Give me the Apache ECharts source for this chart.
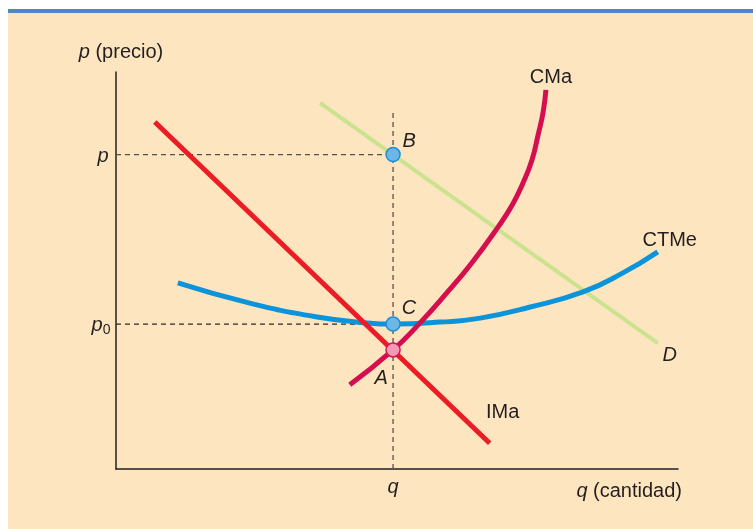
<!DOCTYPE html>
<html><head><meta charset="utf-8">
<script src="https://cdn.jsdelivr.net/npm/echarts@6/dist/echarts.min.js"></script>
<style>html,body{margin:0;padding:0;background:#fff}#c{width:753px;height:529px}</style>
</head><body><div id="c"></div>
<script>
// ---- data (axis units 0..10) ----
const qVal = 4.93;          // quantity q
const pVal = 7.92;          // price p (point B)
const p0Val = 3.65;         // price p0 (point C)
const aVal = 3.00;          // point A (IMa = CMa)
const vDashTop = 9.04;

const imaX = [0.69, 6.65];
const imaY = [8.74, 0.65];
const dX = [3.63, 9.64];
const dY = [9.22, 3.17];
const cmaX = [4.16, 4.93, 5.39, 5.87, 6.33, 6.80, 7.05, 7.24, 7.40, 7.51, 7.60, 7.65];
const cmaY = [2.12, 3.00, 3.65, 4.41, 5.19, 6.10, 6.65, 7.20, 7.78, 8.41, 8.99, 9.55];
const ctmeX = [1.10, 2.38, 3.58, 4.47, 4.93, 5.77, 6.48, 7.37, 8.31, 9.02, 9.64];
const ctmeY = [4.69, 4.18, 3.83, 3.68, 3.65, 3.70, 3.80, 4.08, 4.46, 4.94, 5.47];

const pointNames = ['B', 'C', 'A'];
const pointY = [pVal, p0Val, aVal];
const curveNames = ['IMa', 'D', 'CMa', 'CTMe'];
const yTickLabels = ['{i|p}', '{i|p}{s|0}'];
const xTickLabel = '{i|q}';
const yAxisName = '{i|p} (precio)';
const xAxisName = '{i|q} (cantidad)';

// ---- helpers ----
const zip = (xs, ys) => xs.map((x, i) => [x, ys[i]]);
const TXT = '#231F20';
const FONT = '"Liberation Sans", Arial, Helvetica, sans-serif';
const rich = {
  i: { fontStyle: 'italic', fontSize: 20, color: TXT, fontFamily: FONT, textBorderWidth: 0 },
  s: { fontSize: 14, color: TXT, fontFamily: FONT, verticalAlign: 'bottom', padding: [10, 0, 0, 0], textBorderWidth: 0 }
};
const lbl = (text, offset) => ({
  show: true, position: 'inside', offset: offset, formatter: text,
  fontSize: 20, color: TXT, fontFamily: FONT, rich: rich,
  opacity: 1, textBorderWidth: 0, textBorderColor: 'transparent', textShadowBlur: 0
});

const chart = echarts.init(document.getElementById('c'), null, { renderer: 'canvas' });

const labelData = [
  { value: [imaX[1], imaY[1]], label: lbl(curveNames[0], [13, -31]) },
  { value: [dX[1], dY[1]], label: lbl('{i|' + curveNames[1] + '}', [12, 12]) },
  { value: [cmaX[cmaX.length - 1], cmaY[cmaY.length - 1]], label: lbl(curveNames[2], [5, -12]) },
  { value: [ctmeX[ctmeX.length - 1], ctmeY[ctmeY.length - 1]], label: lbl(curveNames[3], [12, -11]) },
  { value: [qVal, pointY[0]], label: lbl('{i|' + pointNames[0] + '}', [16, -13]) },
  { value: [qVal, pointY[1]], label: lbl('{i|' + pointNames[1] + '}', [16, -16]) },
  { value: [qVal, pointY[2]], label: lbl('{i|' + pointNames[2] + '}', [-12, 29]) },
  { value: [0, pVal], label: lbl(yTickLabels[0], [-13, 2]) },
  { value: [0, p0Val], label: lbl(yTickLabels[1], [-15, 1]) },
  { value: [qVal, 0], label: lbl(xTickLabel, [0, 18]) }
];

const dash = { color: '#55504d', width: 1.3, type: [5, 4] };

const option = {
  animation: false,
  backgroundColor: 'transparent',
  graphic: [
    { type: 'rect', z: -100, silent: true, shape: { x: 8, y: 13, width: 745, height: 516 }, style: { fill: '#FDE5BF' } },
    { type: 'rect', z: -100, silent: true, shape: { x: 8, y: 9, width: 745, height: 4 }, style: { fill: '#4A88C8' } }
  ],
  grid: { left: 116, right: 75, top: 72, bottom: 60 },
  xAxis: {
    type: 'value', min: 0, max: 10,
    axisLine: { show: true, onZero: false, lineStyle: { color: TXT, width: 1.5 } },
    axisTick: { show: false }, axisLabel: { show: false }, splitLine: { show: false },
    name: xAxisName, nameLocation: 'end', nameGap: 4,
    nameTextStyle: { fontSize: 20, color: TXT, fontFamily: FONT, align: 'right', verticalAlign: 'top', padding: [12, 0, 0, 0], rich: rich }
  },
  yAxis: {
    type: 'value', min: 0, max: 10,
    axisLine: { show: true, onZero: false, lineStyle: { color: TXT, width: 1.5 } },
    axisTick: { show: false }, axisLabel: { show: false }, splitLine: { show: false },
    name: yAxisName, nameLocation: 'end', nameGap: 10,
    nameTextStyle: { fontSize: 20, color: TXT, fontFamily: FONT, align: 'center', padding: [0, 0, 0, 10], rich: rich }
  },
  series: [
    { type: 'line', name: 'dash-p', data: [[0, pVal], [qVal, pVal]], symbol: 'none', lineStyle: dash, z: 1 },
    { type: 'line', name: 'dash-p0', data: [[0, p0Val], [qVal, p0Val]], symbol: 'none', lineStyle: Object.assign({}, dash, { color: '#2f2b29' }), z: 1 },
    { type: 'line', name: 'dash-q', data: [[qVal, 0], [qVal, vDashTop]], symbol: 'none', lineStyle: dash, z: 1 },
    { type: 'line', name: curveNames[1], data: zip(dX, dY), symbol: 'none', lineStyle: { color: '#CBE28E', width: 4, cap: 'butt' }, z: 2 },
    { type: 'line', name: curveNames[3], data: zip(ctmeX, ctmeY), smooth: true, symbol: 'none', lineStyle: { color: '#0C94DA', width: 5, cap: 'butt' }, z: 3 },
    { type: 'line', name: curveNames[0], data: zip(imaX, imaY), symbol: 'none', lineStyle: { color: '#EC1C24', width: 5, cap: 'butt' }, z: 4 },
    { type: 'line', name: curveNames[2], data: zip(cmaX, cmaY), smooth: true, symbol: 'none', lineStyle: { color: '#D50F4F', width: 5, cap: 'butt' }, z: 5 },
    { type: 'scatter', name: 'puntos-azules', symbolSize: 14, z: 6,
      itemStyle: { color: '#6DB7E8', borderColor: '#1C8FD6', borderWidth: 1.5, opacity: 1 },
      data: [[qVal, pointY[0]], [qVal, pointY[1]]] },
    { type: 'scatter', name: 'punto-A', symbolSize: 14, z: 6,
      itemStyle: { color: '#F29AB4', borderColor: '#D6145A', borderWidth: 1.5, opacity: 1 },
      data: [[qVal, pointY[2]]] },
    { type: 'scatter', name: 'etiquetas', symbolSize: 1, z: 7, silent: true,
      itemStyle: { color: TXT, opacity: 0 }, data: labelData }
  ]
};
chart.setOption(option);
</script>
</body></html>
